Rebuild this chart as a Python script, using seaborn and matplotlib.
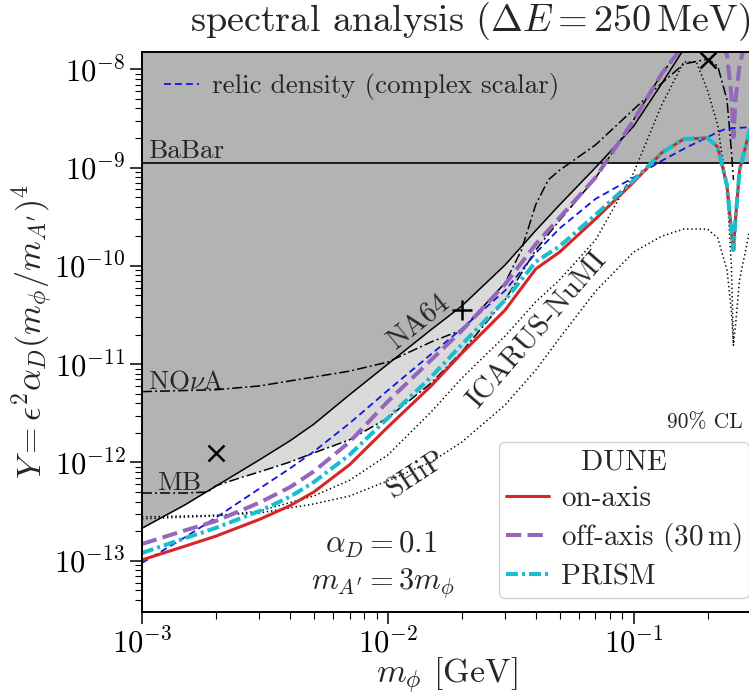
import numpy as np
import pandas as pd
import matplotlib
matplotlib.use("Agg")
import matplotlib.pyplot as plt
from matplotlib.ticker import FixedLocator, LogLocator, NullFormatter
import seaborn as sns

# ---------------- data ----------------
# dark-matter mass grid [GeV]
m_grid = [1e-3, 1.5e-3, 2e-3, 3e-3, 4e-3, 5e-3, 7e-3, 1e-2, 1.5e-2, 2e-2, 3e-2, 4e-2,
          5e-2, 7e-2, 0.1, 0.13, 0.16, 0.2, 0.22, 0.24, 0.25, 0.255, 0.26, 0.27, 0.3]

# DUNE sensitivities (90% CL)
y_on_axis = [1.02e-13, 1.41e-13, 1.78e-13, 2.63e-13, 3.63e-13, 5.0e-13, 9.5e-13, 2.29e-12,
             6.0e-12, 1.29e-11, 3.55e-11, 9.3e-11, 1.38e-10, 3.0e-10, 7.1e-10, 1.41e-9, 1.95e-9,
             2.0e-9, 1.62e-9, 6.6e-10, 2.3e-10, 1.45e-10, 3.0e-10, 9.4e-10, 2.65e-9]
y_off_axis = [1.48e-13, 2.04e-13, 2.54e-13, 3.89e-13, 5.6e-13, 8.1e-13, 1.62e-12, 4.17e-12,
              1.1e-11, 2.19e-11, 6.5e-11, 1.66e-10, 3.09e-10, 7.9e-10, 3.02e-9, 8.95e-9, 1.77e-8,
              3.2e-8, 2.0e-8, 1.4e-8, 5.5e-9, 2.04e-9, 4.9e-9, 1.1e-8, 3.2e-8]
y_prism = [1.2e-13, 1.7e-13, 2.16e-13, 3.2e-13, 4.47e-13, 6.3e-13, 1.2e-12, 2.82e-12,
           7.4e-12, 1.58e-11, 4.47e-11, 1.1e-10, 1.58e-10, 3.3e-10, 7.4e-10, 1.41e-9, 1.95e-9,
           2.0e-9, 1.62e-9, 6.6e-10, 2.3e-10, 1.45e-10, 3.0e-10, 9.4e-10, 2.65e-9]

# relic density target (complex scalar)
m_relic = [1e-3, 1.5e-3, 2e-3, 3e-3, 4e-3, 5e-3, 7e-3, 1e-2, 1.5e-2, 2e-2, 3e-2, 4e-2,
           5e-2, 7e-2, 0.1, 0.13, 0.16, 0.2, 0.22, 0.24, 0.3]
y_relic = [9.5e-14, 1.74e-13, 2.75e-13, 5.4e-13, 8.7e-13, 1.29e-12, 2.51e-12, 5.4e-12,
           1.26e-11, 2.29e-11, 5.6e-11, 1.35e-10, 2.4e-10, 4.8e-10, 7.9e-10, 1.17e-9,
           1.55e-9, 2.04e-9, 2.29e-9, 2.51e-9, 2.57e-9]

# existing bounds
y_babar = 1.11e-9
m_na64 = [1e-3, 1.5e-3, 2e-3, 3e-3, 4e-3, 5e-3, 7e-3, 1e-2, 1.5e-2, 2e-2, 3e-2, 4e-2,
          5e-2, 7e-2, 0.1, 0.13, 0.16, 0.2, 0.3]
y_na64 = [2.14e-13, 3.72e-13, 5.75e-13, 1.06e-12, 1.66e-12, 2.45e-12, 4.9e-12, 1.0e-11,
          2.24e-11, 3.9e-11, 1.02e-10, 2.29e-10, 4.17e-10, 1.0e-9, 2.63e-9, 7.1e-9, 1.6e-8,
          3.5e-8, 8e-8]
m_mb = [1e-3, 1.5e-3, 1.85e-3, 2e-3, 2.5e-3, 3e-3, 4e-3, 5e-3, 7e-3, 1e-2, 1.5e-2, 2e-2,
        3e-2, 4e-2, 5e-2, 7e-2, 0.1, 0.13, 0.16]
y_mb = [4.89e-13, 4.89e-13, 5.0e-13, 5.8e-13, 6.95e-13, 8.0e-13, 1.01e-12, 1.25e-12, 1.7e-12,
        2.84e-12, 6.4e-12, 1.33e-11, 4.5e-11, 1.45e-10, 2.9e-10, 7.8e-10, 3.05e-9, 8.95e-9,
        1.77e-8]
m_nova = [1e-3, 2e-3, 3e-3, 5e-3, 7e-3, 1e-2, 1.5e-2, 2e-2, 3e-2, 3.5e-2, 4e-2, 4.5e-2,
          5e-2, 7e-2, 0.1, 0.13, 0.16, 0.2, 0.22, 0.24, 0.25, 0.255]
y_nova = [5.25e-12, 5.5e-12, 6.0e-12, 7.4e-12, 8.5e-12, 1.05e-11, 1.68e-11, 2.23e-11,
          6.7e-11, 1.45e-10, 4.2e-10, 7.5e-10, 9.4e-10, 1.7e-9, 3.9e-9, 7.2e-9, 1.13e-8,
          1.27e-8, 1.08e-8, 4.9e-9, 1.5e-9, 7.5e-10]

# projections
m_icarus = [1e-3, 2e-3, 3e-3, 5e-3, 7e-3, 1e-2, 1.5e-2, 2e-2, 3e-2, 4e-2, 5e-2, 7e-2,
            0.1, 0.13, 0.16, 0.18, 0.2, 0.22, 0.24, 0.25, 0.255]
y_icarus = [2.67e-13, 2.86e-13, 3.2e-13, 4.56e-13, 6.6e-13, 1.19e-12, 3.26e-12, 7.2e-12,
            1.93e-11, 4.3e-11, 7.2e-11, 1.83e-10, 8.8e-10, 4.3e-9, 1.19e-8, 1.19e-8, 6.1e-9,
            2.7e-9, 5.9e-10, 1.02e-10, 1.56e-11]
m_ship = [1e-3, 2e-3, 3e-3, 5e-3, 7e-3, 1e-2, 1.5e-2, 2e-2, 3e-2, 4e-2, 5e-2, 7e-2,
          0.1, 0.13, 0.16, 0.2, 0.22, 0.24, 0.25, 0.255, 0.26, 0.27, 0.3]
y_ship = [2.79e-13, 2.9e-13, 3.06e-13, 3.78e-13, 4.56e-13, 6.5e-13, 1.01e-12, 1.61e-12,
          3.84e-12, 8.7e-12, 1.84e-11, 5.5e-11, 1.38e-10, 2.0e-10, 2.37e-10, 2.37e-10,
          1.92e-10, 9.1e-11, 3.5e-11, 1.56e-11, 2.5e-11, 7.2e-11, 2.6e-10]

# benchmark points
m_cross = [2e-3, 0.2]
y_cross = [1.24e-12, 1.24e-8]
m_plus = [0.02]
y_plus = [3.56e-11]

# axis ticks
x_major = [1e-3, 1e-2, 1e-1]
y_major = [1e-13, 1e-12, 1e-11, 1e-10, 1e-9, 1e-8]

# ---------------- style ----------------
sns.set_theme(style="ticks")
plt.rcParams.update({
    "font.family": "serif",
    "font.serif": ["cmr10"],
    "mathtext.fontset": "cm",
    "axes.unicode_minus": False,
    "axes.formatter.use_mathtext": True,
    "lines.scale_dashes": False,
    "axes.linewidth": 1.4,
    "axes.edgecolor": "black",
    "xtick.color": "black",
    "ytick.color": "black",
    "xtick.direction": "out",
    "ytick.direction": "out",
    "xtick.major.size": 8.4,
    "ytick.major.size": 8.4,
    "xtick.minor.size": 5.2,
    "ytick.minor.size": 5.2,
    "xtick.major.width": 1.1,
    "ytick.major.width": 1.1,
    "xtick.minor.width": 0.8,
    "ytick.minor.width": 0.8,
})

fig = plt.figure(figsize=(7.49, 6.94), dpi=100)
ax = fig.add_axes([142 / 749, 1 - 611.7 / 694, (750.8 - 142) / 749, (611.7 - 51.7) / 694])
ax.set_xscale("log")
ax.set_yscale("log")
xmin, xmax = 1e-3, 0.3
ymin, ymax = 3.03e-14, 1.51e-8
ax.set_xlim(xmin, xmax)
ax.set_ylim(ymin, ymax)
ax.xaxis.set_major_locator(FixedLocator(x_major))
ax.yaxis.set_major_locator(FixedLocator(y_major))
ax.xaxis.set_minor_locator(LogLocator(base=10, subs=np.arange(2, 10), numticks=20))
ax.yaxis.set_minor_locator(LogLocator(base=10, subs=np.arange(2, 10), numticks=20))
ax.xaxis.set_minor_formatter(NullFormatter())
ax.yaxis.set_minor_formatter(NullFormatter())

# shaded exclusion regions
xf = np.logspace(np.log10(xmin), np.log10(xmax), 600)
na64_f = 10 ** np.interp(np.log10(xf), np.log10(m_na64), np.log10(y_na64))
mb_f = 10 ** np.interp(np.log10(xf), np.log10(m_mb), np.log10(y_mb))
dark_low = np.minimum(na64_f, y_babar)
ax.fill_between(xf, dark_low, 1e-6, color="#b3b3b3", lw=0, zorder=0)
ax.fill_between(xf, mb_f, dark_low, where=mb_f < dark_low, color="#dadada", lw=0, zorder=0)


def draw(m, y, color, lw, dashes=None, z=2):
    sns.lineplot(x=m, y=y, ax=ax, color=color, lw=lw, estimator=None, sort=False,
                 zorder=z, legend=False)
    line = ax.lines[-1]
    if dashes is not None:
        line.set_dashes(dashes)
    return line


ax.axhline(y_babar, color="black", lw=1.2, zorder=2)
draw(m_na64, y_na64, "black", 1.1, z=2)
draw(m_mb, y_mb, "black", 1.1, dashes=(7.2, 2.2, 1.4, 2.2), z=2)
draw(m_nova, y_nova, "black", 1.1, dashes=(7.2, 2.2, 1.4, 2.2), z=2)
draw(m_icarus, y_icarus, "black", 1.1, dashes=(1.0, 2.0), z=2)
draw(m_ship, y_ship, "black", 1.1, dashes=(1.0, 2.0), z=2)

relic = draw(m_relic, y_relic, "#1414e6", 1.3, dashes=(5.0, 2.9), z=3)
on_axis = draw(m_grid, y_on_axis, "#d62728", 2.2, z=4)
off_axis = draw(m_grid, y_off_axis, "#9467bd", 2.9, dashes=(11.0, 4.5), z=5)
prism = draw(m_grid, y_prism, "#17becf", 2.9, dashes=(8.6, 2.9, 2.2, 2.9), z=6)

ax.plot(m_cross, y_cross, ls="none", marker="x", ms=11, mew=1.8, color="black", zorder=7)
ax.plot(m_plus, y_plus, ls="none", marker="+", ms=14, mew=1.8, color="black", zorder=7)

# annotations
ax.text(1.06e-3, 1.25e-9, "BaBar", fontsize=19.5, va="baseline", ha="left")
ax.text(1.06e-3, 5.7e-12, r"NO$\nu$A", fontsize=19.5, va="baseline", ha="left")
ax.text(1.156e-3, 5.25e-13, "MB", fontsize=19.5, va="baseline", ha="left")
ax.text(1.34e-2, 2.63e-11, "NA64", fontsize=20.5, rotation=39, ha="center", va="center",
        rotation_mode="anchor")
ax.text(4.06e-2, 2.23e-11, "ICARUS-NuMI", fontsize=21, rotation=49, ha="center",
        va="center", rotation_mode="anchor")
ax.text(1.31e-2, 7.45e-13, "SHiP", fontsize=20.5, rotation=33, ha="center", va="center",
        rotation_mode="anchor")
ax.text(0.393, 0.120, r"$\alpha_D = 0.1$", fontsize=22, ha="center", va="center",
        transform=ax.transAxes)
ax.text(0.396, 0.052, r"$m_{A'} = 3m_\phi$", fontsize=22, ha="center", va="center",
        transform=ax.transAxes)
ax.text(0.925, 0.338, "90% CL", fontsize=15.5, ha="center", va="center",
        transform=ax.transAxes)

# legends
leg_relic = ax.legend([relic], ["relic density (complex scalar)"], loc="upper left",
                      bbox_to_anchor=(0.0, 1.0), frameon=False, fontsize=19.5,
                      handlelength=1.3, handletextpad=0.5, borderaxespad=0.4)
ax.add_artist(leg_relic)
leg = ax.legend([on_axis, off_axis, prism], ["on-axis", r"off-axis ($30\,\mathrm{m}$)", "PRISM"],
                title="DUNE", loc="lower right", bbox_to_anchor=(0.997, 0.025), fontsize=21,
                title_fontsize=21, handlelength=1.45, handletextpad=0.42, labelspacing=0.33,
                borderpad=0.25, borderaxespad=0.0, framealpha=0.85, edgecolor="0.8",
                fancybox=True)
leg.get_frame().set_linewidth(1.0)

ax.set_xlabel(r"$m_\phi$ [GeV]", fontsize=24.5)
ax.set_ylabel(r"$Y = \epsilon^2\alpha_D(m_\phi/m_{A'})^4$", fontsize=24.5)
ax.xaxis.set_label_coords(0.5, -0.078)
ax.yaxis.set_label_coords(-0.143, 0.5)
ax.tick_params(axis="both", which="major", labelsize=22)
fig.text(470 / 749, 1 - 22 / 694, r"spectral analysis ($\Delta E = 250\,\mathrm{MeV}$)",
         fontsize=27.5, ha="center", va="center")

for s in ax.spines.values():
    s.set_zorder(10)

fig.savefig("out.png", dpi=100)
